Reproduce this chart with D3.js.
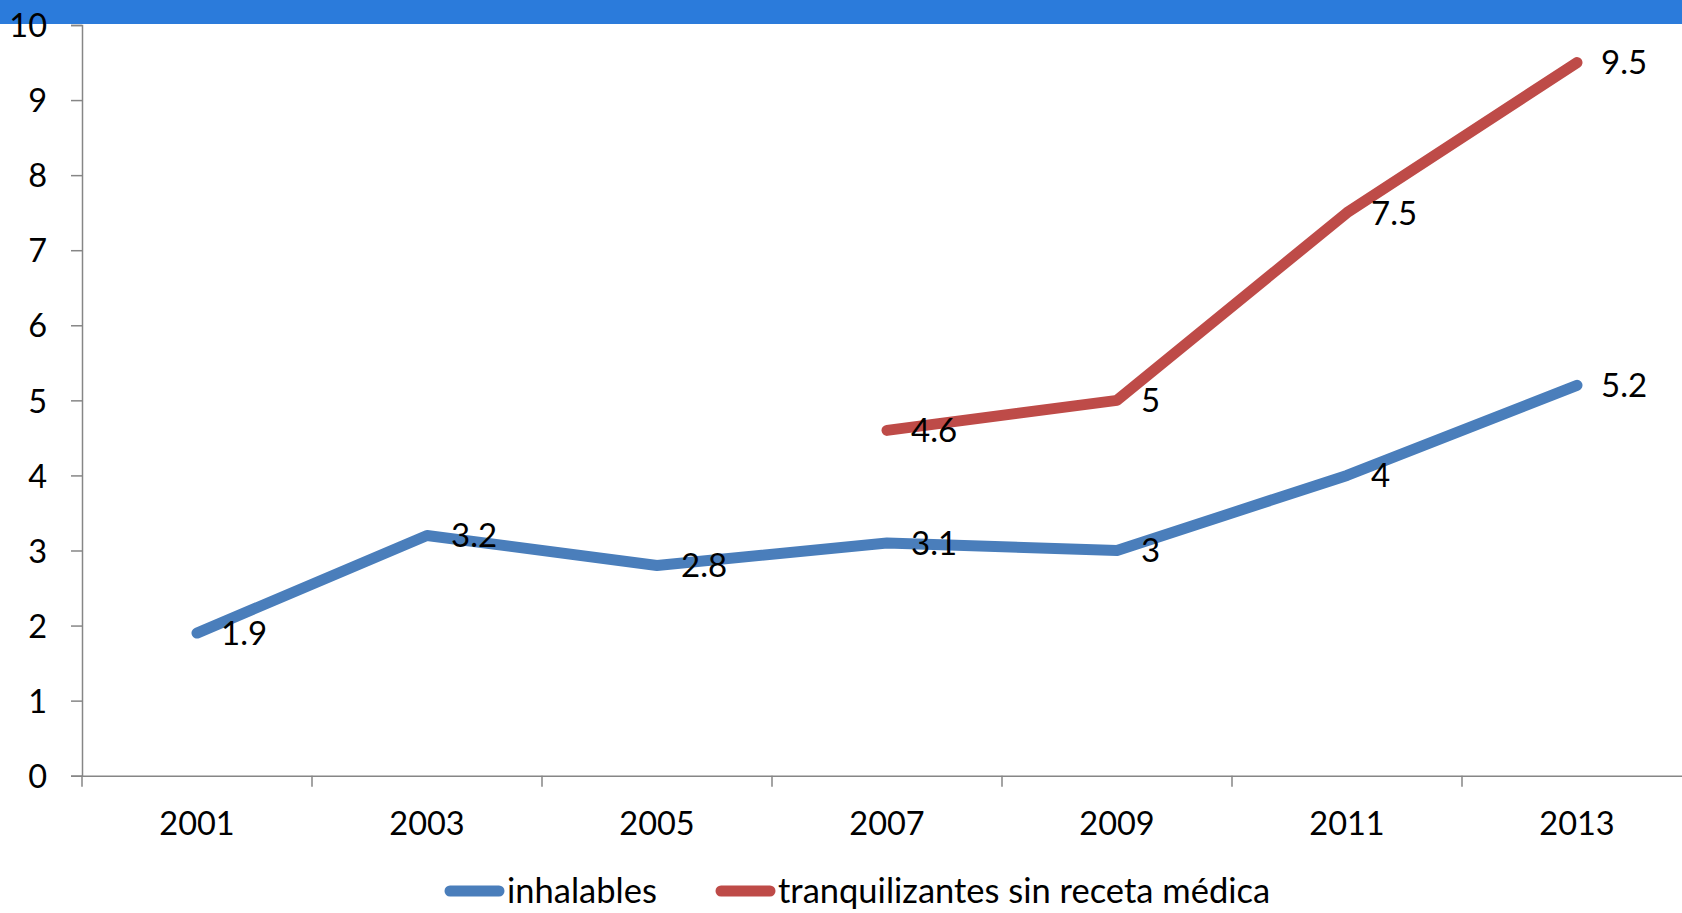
<!DOCTYPE html>
<html>
<head>
<meta charset="utf-8">
<script src="https://cdn.jsdelivr.net/npm/d3@7"></script>
<style>
html,body{margin:0;padding:0;background:#fff;}
svg{display:block;}
text{font-family:Lato,"Open Sans",sans-serif;fill:#000;}
</style>
</head>
<body>
<svg id="chart" width="1682" height="913"></svg>
<script>
const years = ["2001","2003","2005","2007","2009","2011","2013"];
const inhalables = [1.9, 3.2, 2.8, 3.1, 3, 4, 5.2];
const tranquilizantes = [null, null, null, 4.6, 5, 7.5, 9.5];
const yTicks = [0,1,2,3,4,5,6,7,8,9,10];
const seriesNames = ["inhalables", "tranquilizantes sin receta médica"];
const seriesColors = ["#4a7ebb", "#be4b48"];

(function () {
const svg = d3.select("#chart");
const W = 1682, H = 913;
const plotLeft = 82, bandW = 230, plotTop = 25, plotBottom = 775.7;

const x = d3.scaleBand().domain(years).range([plotLeft, plotLeft + bandW * years.length]).padding(0);
const y = d3.scaleLinear().domain([0, 10]).range([plotBottom, plotTop]);

// top bar
svg.append("rect").attr("x", 0).attr("y", 0).attr("width", W).attr("height", 24).attr("fill", "#2b7bdb");

const axisColor = "#868686";
const fs = 32.5;

// Y axis
const yAxis = svg.append("g").attr("transform", `translate(${plotLeft},0)`)
  .call(d3.axisLeft(y).tickValues(yTicks).tickSize(11).tickPadding(24).tickFormat(d3.format("d")));
yAxis.select(".domain").attr("stroke", axisColor).attr("stroke-width", 1.5);
yAxis.selectAll(".tick line").attr("stroke", axisColor).attr("stroke-width", 1.5);
yAxis.selectAll(".tick text").attr("font-size", fs).attr("font-family", "Lato").attr("fill", "#000").attr("dy", "0.36em");

// X axis
const xAxis = svg.append("g").attr("transform", `translate(0,${plotBottom})`)
  .call(d3.axisBottom(x).tickSize(0).tickPadding(48));
xAxis.select(".domain").attr("stroke", axisColor).attr("stroke-width", 1.5);
xAxis.selectAll(".tick text").attr("font-size", fs).attr("font-family", "Lato").attr("fill", "#000").attr("dy", "0.36em");
// boundary ticks
const bounds = years.map(d => x(d)).concat([x(years[years.length-1]) + x.bandwidth()]);
svg.append("g").selectAll("line").data(bounds).join("line")
  .attr("x1", d => d).attr("x2", d => d)
  .attr("y1", plotBottom).attr("y2", plotBottom + 11)
  .attr("stroke", axisColor).attr("stroke-width", 1.5);

// lines
const cx = d => x(d) + x.bandwidth() / 2;
const allSeries = [inhalables, tranquilizantes];
const line = d3.line()
  .defined(d => d.v != null)
  .x(d => cx(d.year)).y(d => y(d.v));

allSeries.forEach((vals, i) => {
  const data = years.map((yr, j) => ({year: yr, v: vals[j]}));
  svg.append("path").datum(data)
    .attr("d", line)
    .attr("fill", "none")
    .attr("stroke", seriesColors[i])
    .attr("stroke-width", 11)
    .attr("stroke-linecap", "round")
    .attr("stroke-linejoin", "round");
});

// labels
allSeries.forEach((vals, i) => {
  const data = years.map((yr, j) => ({year: yr, v: vals[j]})).filter(d => d.v != null);
  svg.append("g").selectAll("text").data(data).join("text")
    .attr("x", d => cx(d.year) + 24)
    .attr("y", d => y(d.v))
    .attr("dy", "0.36em")
    .attr("font-size", 33)
    .text(d => String(d.v));
});

// legend
const legY = 891;
const legItems = [
  {x1: 445, x2: 504, tx: 507},
  {x1: 716, x2: 775, tx: 778}
];
legItems.forEach((it, i) => {
  svg.append("line").attr("x1", it.x1 + 5).attr("x2", it.x2 - 5)
    .attr("y1", legY).attr("y2", legY)
    .attr("stroke", seriesColors[i]).attr("stroke-width", 11).attr("stroke-linecap", "round");
  svg.append("text").attr("x", it.tx).attr("y", legY).attr("dy", "0.36em")
    .attr("font-size", 34.5).text(seriesNames[i]);
});
})();
</script>
</body>
</html>
